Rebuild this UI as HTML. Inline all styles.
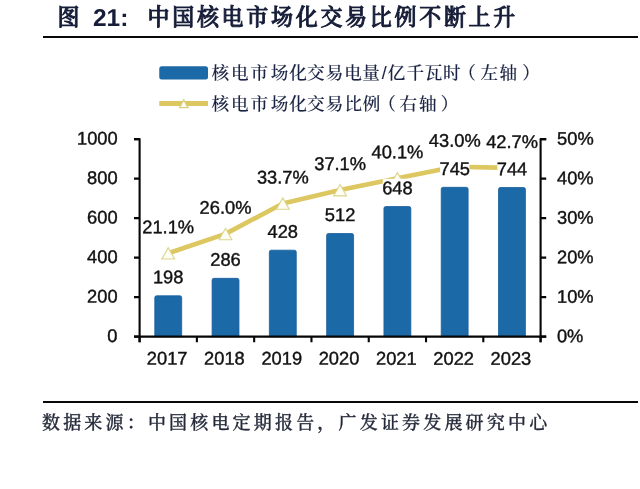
<!DOCTYPE html>
<html lang="zh-CN"><head><meta charset="utf-8"><title>图 21</title>
<style>
html,body{margin:0;padding:0;background:#fff;}
#wrap{position:relative;width:640px;height:489px;overflow:hidden;background:#fff;}
#title{position:absolute;left:0;top:0;height:36px;white-space:nowrap;color:#161d38;}
#title span{position:absolute;top:0;white-space:nowrap;line-height:36px;}
#t1,#t3{transform:scaleY(1.05);transform-origin:0 29px;}
#t1{left:57.5px;top:1.6px;font-family:"Liberation Serif","Noto Serif CJK SC",serif;font-weight:500;font-size:22px;-webkit-text-stroke:0.9px #161d38;}
#t2{left:93px;font-family:"Liberation Sans","Noto Sans CJK SC",sans-serif;font-weight:bold;font-size:24.5px;transform:rotate(0.03deg);transform-origin:0 50%;}
#t3{left:147.5px;top:1.6px;font-family:"Liberation Serif","Noto Serif CJK SC",serif;font-weight:500;font-size:22px;letter-spacing:2.7px;-webkit-text-stroke:0.9px #161d38;}
.rule{position:absolute;left:43.4px;width:594.6px;height:2px;background:#080808;}
#src{position:absolute;left:42px;top:409.8px;white-space:nowrap;font-family:"Liberation Serif","Noto Serif CJK SC",serif;font-weight:500;font-size:18px;letter-spacing:3.18px;color:#252a3a;-webkit-text-stroke:0.3px #252a3a;line-height:26px;}
svg{position:absolute;left:0;top:0;}
.bar{fill:#1c69a8;stroke:#185e9c;stroke-width:0.8;}
.ax{fill:none;stroke:#060606;stroke-width:2.1;stroke-linejoin:round;}
.ln{fill:none;stroke:#dcc760;stroke-width:4.6;stroke-linejoin:round;stroke-linecap:round;}
.mk{fill:#fffef6;stroke:#dcd58c;stroke-width:1.1;stroke-linejoin:miter;}
.lg{font-family:"Liberation Sans","Noto Serif CJK SC",serif;font-weight:500;font-size:17.6px;fill:#1a2344;stroke:#1a2344;stroke-width:0.12px;}
.n{font-family:"Liberation Sans",sans-serif;font-size:18.3px;fill:#111;stroke:#111;stroke-width:0.4px;}
</style></head><body>
<div id="wrap">
<div id="title"><span id="t1">图</span><span id="t2">21:</span><span id="t3">中国核电市场化交易比例不断上升</span></div>
<div class="rule" style="top:35.7px"></div>
<svg width="640" height="489" viewBox="0 0 640 489">
<rect x="159.25" y="66.25" width="48.75" height="13.25" rx="2.5" fill="#1c69a8"/>
<path d="M159.25 103.5 H208" stroke="#dcc760" stroke-width="4.8" fill="none"/>
<path d="M183.75 99.8 L187.9 107.6 H179.6 Z" fill="#fffdf0" stroke="#d9cf80" stroke-width="1.3"/>
<path class="bar" d="M154.79 336.6 V297.59 Q154.79 295.79 156.59 295.79 H179.89 Q181.69 295.79 181.69 297.59 V336.6 Z"/>
<path class="bar" d="M212.08 336.6 V280.14 Q212.08 278.34 213.88 278.34 H237.18 Q238.98 278.34 238.98 280.14 V336.6 Z"/>
<path class="bar" d="M269.36 336.6 V251.98 Q269.36 250.18 271.16 250.18 H294.46 Q296.26 250.18 296.26 251.98 V336.6 Z"/>
<path class="bar" d="M326.65 336.6 V235.32 Q326.65 233.52 328.45 233.52 H351.75 Q353.55 233.52 353.55 235.32 V336.6 Z"/>
<path class="bar" d="M383.94 336.6 V208.35 Q383.94 206.55 385.74 206.55 H409.04 Q410.84 206.55 410.84 208.35 V336.6 Z"/>
<path class="bar" d="M441.22 336.6 V189.12 Q441.22 187.32 443.02 187.32 H466.32 Q468.12 187.32 468.12 189.12 V336.6 Z"/>
<path class="bar" d="M498.51 336.6 V189.31 Q498.51 187.51 500.31 187.51 H523.61 Q525.41 187.51 525.41 189.31 V336.6 Z"/>
<path class="ax" d="M134.0 139.10 H139.6 V342.20 M546.2 139.10 H540.6 V342.20 M134.0 336.6 H546.2"/>
<path class="ax" d="M134.0 336.60 H139.6 M540.6 336.60 H546.2 M134.0 297.10 H139.6 M540.6 297.10 H546.2 M134.0 257.60 H139.6 M540.6 257.60 H546.2 M134.0 218.10 H139.6 M540.6 218.10 H546.2 M134.0 178.60 H139.6 M540.6 178.60 H546.2 M134.0 139.10 H139.6 M540.6 139.10 H546.2 M139.60 336.6 V342.20 M196.89 336.6 V342.20 M254.17 336.6 V342.20 M311.46 336.6 V342.20 M368.74 336.6 V342.20 M426.03 336.6 V342.20 M483.31 336.6 V342.20 M540.60 336.6 V342.20"/>
<polyline class="ln" points="168.24,253.25 225.53,233.90 282.81,203.49 340.10,190.06 397.39,178.21 454.67,166.75 511.96,167.94"/>
<path class="mk" d="M168.24 247.66 L174.64 259.06 H161.84 Z"/>
<path class="mk" d="M225.53 228.30 L231.93 239.70 H219.13 Z"/>
<path class="mk" d="M282.81 197.89 L289.21 209.29 H276.41 Z"/>
<path class="mk" d="M340.10 184.46 L346.50 195.86 H333.70 Z"/>
<path class="mk" d="M397.39 172.61 L403.79 184.01 H390.99 Z"/>
<path class="mk" d="M454.67 161.15 L461.07 172.55 H448.27 Z"/>
<path class="mk" d="M511.96 162.34 L518.36 173.74 H505.56 Z"/>
<g transform="rotate(0.03 320 245)">
<text class="n" text-anchor="end" x="117.6" y="342.2">0</text>
<text class="n" x="557" y="342.2">0%</text>
<text class="n" text-anchor="end" x="117.6" y="302.7">200</text>
<text class="n" x="557" y="302.7">10%</text>
<text class="n" text-anchor="end" x="117.6" y="263.2">400</text>
<text class="n" x="557" y="263.2">20%</text>
<text class="n" text-anchor="end" x="117.6" y="223.7">600</text>
<text class="n" x="557" y="223.7">30%</text>
<text class="n" text-anchor="end" x="117.6" y="184.2">800</text>
<text class="n" x="557" y="184.2">40%</text>
<text class="n" text-anchor="end" x="117.6" y="144.7">1000</text>
<text class="n" x="557" y="144.7">50%</text>
<text class="n" text-anchor="middle" x="167.2" y="364.6">2017</text>
<text class="n" text-anchor="middle" x="224.5" y="364.6">2018</text>
<text class="n" text-anchor="middle" x="281.8" y="364.6">2019</text>
<text class="n" text-anchor="middle" x="339.1" y="364.6">2020</text>
<text class="n" text-anchor="middle" x="396.4" y="364.6">2021</text>
<text class="n" text-anchor="middle" x="453.7" y="364.6">2022</text>
<text class="n" text-anchor="middle" x="511.0" y="364.6">2023</text>
<rect x="153.5" y="267.9" width="29.4" height="18.5" fill="#fff"/>
<text class="n" text-anchor="middle" x="168.2" y="283.4">198</text>
<rect x="210.8" y="250.4" width="29.4" height="18.5" fill="#fff"/>
<text class="n" text-anchor="middle" x="225.5" y="265.9">286</text>
<rect x="268.1" y="222.3" width="29.4" height="18.5" fill="#fff"/>
<text class="n" text-anchor="middle" x="282.8" y="237.8">428</text>
<rect x="325.4" y="205.6" width="29.4" height="18.5" fill="#fff"/>
<text class="n" text-anchor="middle" x="340.1" y="221.1">512</text>
<rect x="382.7" y="178.7" width="29.4" height="18.5" fill="#fff"/>
<text class="n" text-anchor="middle" x="397.4" y="194.2">648</text>
<rect x="440.0" y="159.4" width="29.4" height="18.5" fill="#fff"/>
<text class="n" text-anchor="middle" x="454.7" y="174.9">745</text>
<rect x="497.3" y="159.6" width="29.4" height="18.5" fill="#fff"/>
<text class="n" text-anchor="middle" x="512.0" y="175.1">744</text>
<text class="n" text-anchor="middle" x="168.2" y="233.3">21.1%</text>
<text class="n" text-anchor="middle" x="225.5" y="213.9">26.0%</text>
<text class="n" text-anchor="middle" x="282.8" y="183.5">33.7%</text>
<text class="n" text-anchor="middle" x="340.1" y="170.1">37.1%</text>
<text class="n" text-anchor="middle" x="397.4" y="158.2">40.1%</text>
<text class="n" text-anchor="middle" x="454.7" y="146.8">43.0%</text>
<text class="n" text-anchor="middle" x="512.0" y="147.9">42.7%</text>
</g>
<text class="lg" text-anchor="middle" x="220.3 239.8 259.4 279.6 298.0 315.8 334.5 353.0 371.0 384.2 396.6 415.2 433.6 451.7 467.0 489.2 508.2 531.0" y="79">核电市场化交易电量/亿千瓦时（左轴）</text>
<text class="lg" text-anchor="middle" x="220.3 239.8 259.4 279.6 298.0 315.8 334.5 353.2 371.6 387.0 408.2 427.9 449.5" y="109.5">核电市场化交易比例（右轴）</text>
</svg>
<div class="rule" style="top:401px"></div>
<div id="src">数据来源：中国核电定期报告，广发证券发展研究中心</div>
</div>
</body></html>
